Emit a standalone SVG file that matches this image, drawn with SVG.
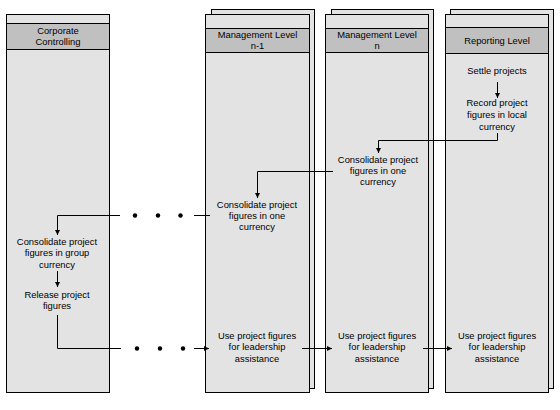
<svg xmlns="http://www.w3.org/2000/svg" width="560" height="410" viewBox="0 0 560 410">
<defs>
<style>
.lane{fill:#e3e3e3;stroke:#000;stroke-width:1}
.hdr{fill:#c0c0c0;stroke:#000;stroke-width:1}
text{font-family:"Liberation Sans",Arial,sans-serif;font-size:9.4px;fill:#000;text-anchor:middle}
.c{fill:none;stroke:#000;stroke-width:1}
.a{fill:none;stroke:#000;stroke-width:1;marker-end:url(#ah)}
</style>
<marker id="ah" viewBox="0 0 6 6" refX="6" refY="3" markerWidth="5" markerHeight="5" markerUnits="userSpaceOnUse" orient="auto">
<path d="M0,0 L6,3 L0,6 z" fill="#000"/>
</marker>
</defs>
<rect width="560" height="410" fill="#fff"/>
<g id="lane-corporate">
<rect class="lane" x="6.5" y="14.5" width="103" height="378"/>
<rect class="hdr" x="6.5" y="23.5" width="103" height="26"/>
<text x="58" y="34">Corporate</text>
<text x="58" y="45">Controlling</text>
</g>
<g id="lane-mgmt-n1">
<rect class="lane" x="211.5" y="9.5" width="103" height="379"/>
<rect class="lane" x="205.5" y="14.5" width="104" height="378"/>
<rect class="hdr" x="205.5" y="28.5" width="104" height="24"/>
<text x="257.5" y="38">Management Level</text>
<text x="257.5" y="49">n-1</text>
</g>
<g id="lane-mgmt-n">
<rect class="lane" x="331.5" y="9.5" width="102" height="379"/>
<rect class="lane" x="325.5" y="14.5" width="103" height="378"/>
<rect class="hdr" x="325.5" y="28.5" width="103" height="24"/>
<text x="377" y="38">Management Level</text>
<text x="377" y="49">n</text>
</g>
<g id="lane-reporting">
<rect class="lane" x="450.5" y="9.5" width="103" height="379"/>
<rect class="lane" x="445.5" y="14.5" width="103" height="378"/>
<rect class="hdr" x="445.5" y="27.5" width="103" height="26"/>
<text x="497" y="44">Reporting Level</text>
</g>
<g id="node-settle"><text x="497" y="74">Settle projects</text></g>
<g id="node-record">
<text x="497" y="106">Record project</text>
<text x="497" y="118">figures in local</text>
<text x="497" y="130">currency</text>
</g>
<g id="node-consolidate-n">
<text x="378" y="163">Consolidate project</text>
<text x="378" y="174">figures in one</text>
<text x="378" y="185">currency</text>
</g>
<g id="node-consolidate-n1">
<text x="257" y="208">Consolidate project</text>
<text x="257" y="219">figures in one</text>
<text x="257" y="230">currency</text>
</g>
<g id="node-consolidate-group">
<text x="57" y="245">Consolidate project</text>
<text x="57" y="256">figures in group</text>
<text x="57" y="268">currency</text>
</g>
<g id="node-release">
<text x="57" y="298">Release project</text>
<text x="57" y="309">figures</text>
</g>
<g id="node-use-n1">
<text x="257" y="339">Use project figures</text>
<text x="257" y="350">for leadership</text>
<text x="257" y="362">assistance</text>
</g>
<g id="node-use-n">
<text x="377" y="339">Use project figures</text>
<text x="377" y="350">for leadership</text>
<text x="377" y="362">assistance</text>
</g>
<g id="node-use-rep">
<text x="497" y="339">Use project figures</text>
<text x="497" y="350">for leadership</text>
<text x="497" y="362">assistance</text>
</g>
<g id="connectors">
<path class="a" d="M497.5,82 V98"/>
<path class="a" d="M497.5,133 V140.5 H378.5 V153"/>
<path class="a" d="M333,171.5 H257.5 V198"/>
<path class="c" d="M210,215.5 H194"/>
<path class="a" d="M120,215.5 H57.5 V235"/>
<path class="a" d="M57.5,271 V287"/>
<path class="c" d="M57.5,315 V348.5 H121"/>
<path class="a" d="M194,348.5 H209"/>
<path class="a" d="M302,348.5 H332"/>
<path class="a" d="M423,348.5 H452"/>
<g fill="#000">
<circle cx="135" cy="215.5" r="2.2"/>
<circle cx="158" cy="215.5" r="2.2"/>
<circle cx="180.5" cy="215.5" r="2.2"/>
<circle cx="137" cy="348.5" r="2.2"/>
<circle cx="160" cy="348.5" r="2.2"/>
<circle cx="183" cy="348.5" r="2.2"/>
</g>
</g>
</svg>
